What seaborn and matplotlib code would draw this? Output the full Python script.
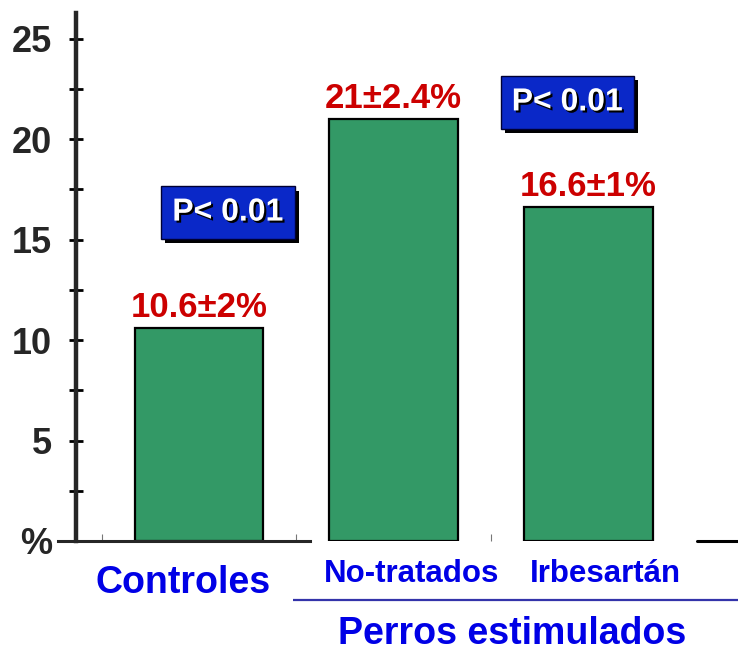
import matplotlib
matplotlib.use("Agg")
import matplotlib.pyplot as plt
import matplotlib.patheffects as pe
from matplotlib.ticker import MultipleLocator, FixedLocator
import seaborn as sns
import pandas as pd

# ---- data ----
categories = ["Controles", "No-tratados", "Irbesartán"]
means = [10.6, 21.0, 16.6]
errors = [2, 2.4, 1]
y_ticks = [0, 5, 10, 15, 20, 25]
y_tick_labels = ["%", "5", "10", "15", "20", "25"]
p_text = "P< 0.01"
group_label = "Perros estimulados"

df = pd.DataFrame({"grupo": categories, "valor": means})

sns.set_style("white")
plt.rcParams["font.family"] = ["Liberation Sans", "DejaVu Sans"]

BAR_GREEN = "#339966"
RED = "#cc0000"
BLUE = "#0000e6"
BOX_BLUE = "#0a28c8"

fig = plt.figure(figsize=(7.38, 6.53), dpi=100)
ax = fig.add_axes([58 / 738, 112 / 653, 680 / 738, 528 / 653])

sns.barplot(data=df, x="grupo", y="valor", order=categories, color=BAR_GREEN,
            width=0.66, edgecolor="black", linewidth=1.6, saturation=1,
            ax=ax)

ax.set_xlim(-0.724, 2.768)
ax.set_ylim(0, 26.27)

# y axis: thick spine placed inside the axes area
for s in ("top", "right"):
    ax.spines[s].set_visible(False)
ax.spines["left"].set_position(("data", -0.632))
ax.spines["left"].set_linewidth(3.2)
ax.spines["bottom"].set_linewidth(2.2)
ax.spines["bottom"].set_bounds(-0.724, 0.57)
ax.axhline(0, xmin=(697 - 58) / 680, xmax=1, color="black", lw=2.2,
           clip_on=False)

ax.yaxis.set_major_locator(FixedLocator(y_ticks))
ax.set_yticklabels(y_tick_labels, fontsize=26, fontweight="bold")
ax.yaxis.set_minor_locator(MultipleLocator(2.5))
ax.tick_params(axis="y", which="both", direction="inout", length=10,
               width=2, color="black", left=True)
ax.tick_params(axis="y", which="major", pad=12)

# x axis: only faint separators between groups
ax.set_xlabel("")
ax.set_ylabel("")
ax.set_xticks([])
ax.xaxis.set_minor_locator(FixedLocator([-0.5, 0.5, 1.5]))
ax.tick_params(axis="x", which="minor", direction="in", length=5, width=0.8,
               color="#777777", bottom=True)

# value labels above bars
for i, (m, e) in enumerate(zip(means, errors)):
    ax.annotate(f"{m:g}±{e:g}%", xy=(i, m), xytext=(0, 8),
                textcoords="offset points", ha="center", va="baseline",
                fontsize=25, fontweight="bold", color=RED)

# significance boxes with drop shadows
def p_box(x, y):
    t = ax.text(x, y, p_text, ha="center", va="center", fontsize=23,
                fontweight="bold", color="white",
                bbox=dict(boxstyle="square,pad=0.35", fc=BOX_BLUE,
                          ec="#000033", lw=1),
                path_effects=[pe.withSimplePatchShadow(
                    offset=(1.5, -1.5), shadow_rgbFace="black", alpha=1)])
    t.get_bbox_patch().set_path_effects(
        [pe.withSimplePatchShadow(offset=(3, -3), shadow_rgbFace="black",
                                  alpha=1)])

p_box(0.149, 16.34)
p_box(1.892, 21.82)

# category labels under the axis
xt = ax.get_xaxis_transform()
label_x = [-0.08, 1.094, 2.085]
label_y = [-0.0985, -0.0777, -0.0777]
label_size = [27, 22.5, 22.5]
for name, x, y, fs in zip(categories, label_x, label_y, label_size):
    ax.text(x, y, name, transform=xt, ha="center", va="baseline",
            fontsize=fs, fontweight="bold", color=BLUE, clip_on=False)

# bracket line and group label for the stimulated dogs
ax.plot([0.483, 2.768], [-0.1117, -0.1117], transform=xt, color="#3333aa",
        lw=1.6, clip_on=False, solid_capstyle="butt")
ax.text(1.607, -0.196, group_label, transform=xt, ha="center",
        va="baseline", fontsize=27, fontweight="bold", color=BLUE,
        clip_on=False)

fig.savefig("out.png", dpi=100)
